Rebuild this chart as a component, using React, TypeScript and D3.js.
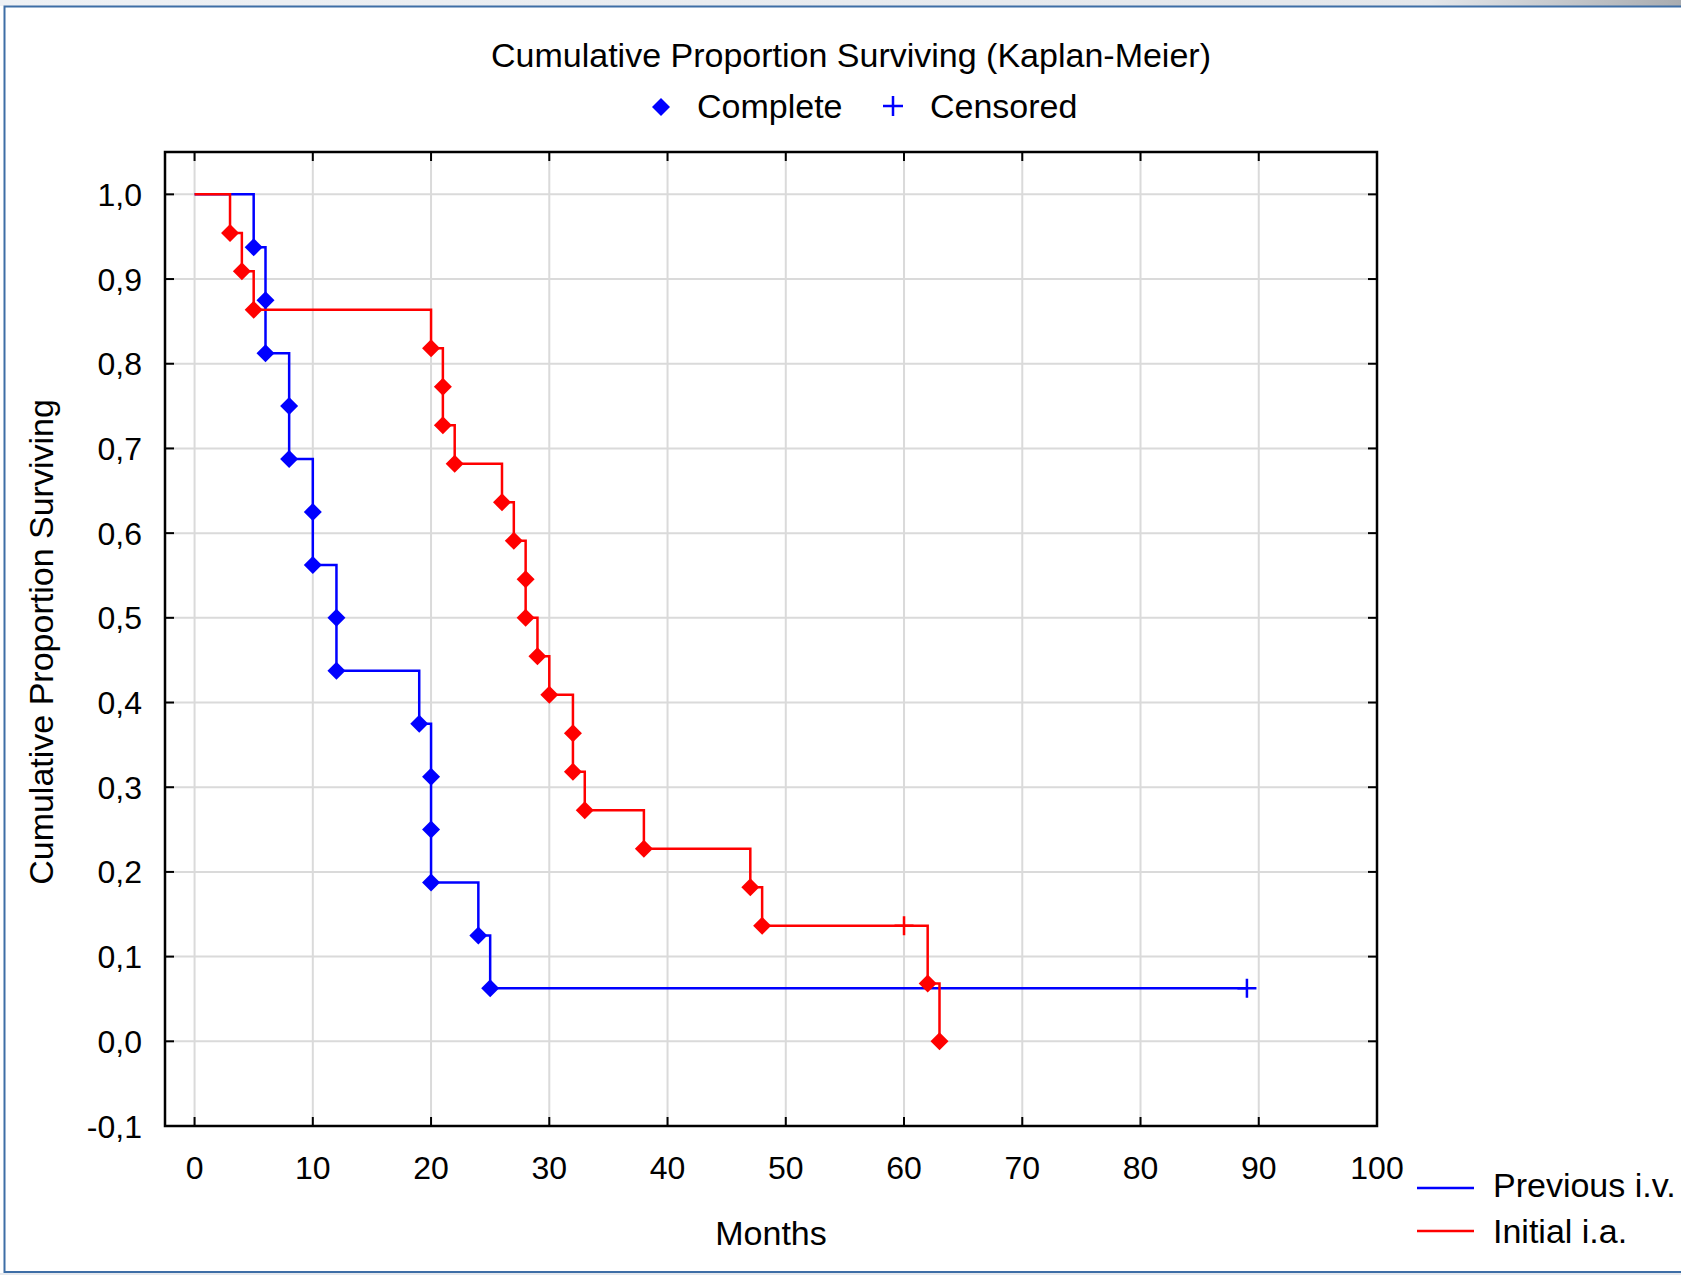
import React from "react";
import * as d3 from "d3";

// Kaplan-Meier estimates, months vs cumulative proportion surviving
const seriesNames = ["Previous i.v.", "Initial i.a."];
const seriesColors = ["#0000ff", "#ff0000"];

// Both curves start from full survival at month 0
const startMonth = 0;
const startSurvival = 1.0;

// Previous i.v.: completed (event) observations
const ivEventMonths = [5, 6, 6, 8, 8, 10, 10, 12, 12, 19, 20, 20, 20, 24, 25];
const ivEventSurvival = [
  0.9375, 0.875, 0.8125, 0.75, 0.6875, 0.625, 0.5625, 0.5, 0.4375, 0.375,
  0.3125, 0.25, 0.1875, 0.125, 0.0625,
];
// Previous i.v.: censored observations
const ivCensoredMonths = [89];
const ivCensoredSurvival = [0.0625];

// Initial i.a.: completed (event) observations
const iaEventMonths = [
  3, 4, 5, 20, 21, 21, 22, 26, 27, 28, 28, 29, 30, 32, 32, 33, 38, 47, 48, 62, 63,
];
const iaEventSurvival = [
  0.9545, 0.9091, 0.8636, 0.8182, 0.7727, 0.7273, 0.6818, 0.6364, 0.5909,
  0.5455, 0.5, 0.4545, 0.4091, 0.3636, 0.3182, 0.2727, 0.2273, 0.1818, 0.1364,
  0.0682, 0.0,
];
// Initial i.a.: censored observations
const iaCensoredMonths = [60];
const iaCensoredSurvival = [0.1364];

const xTicks = [0, 10, 20, 30, 40, 50, 60, 70, 80, 90, 100];
const yTicks = [-0.1, 0, 0.1, 0.2, 0.3, 0.4, 0.5, 0.6, 0.7, 0.8, 0.9, 1.0];

const titleText = "Cumulative Proportion Surviving (Kaplan-Meier)";
const xTitle = "Months";
const yTitle = "Cumulative Proportion Surviving";
const markerLabels = ["Complete", "Censored"];

const W = 1681;
const H = 1275;
const FONT = "'Liberation Sans', Arial, sans-serif";

type Pt = { t: number; s: number; kind: "start" | "event" | "censored" };

function buildSeries(
  evT: number[],
  evS: number[],
  cT: number[],
  cS: number[]
): Pt[] {
  const pts: Pt[] = [];
  evT.forEach((t, i) => pts.push({ t, s: evS[i], kind: "event" }));
  cT.forEach((t, i) => pts.push({ t, s: cS[i], kind: "censored" }));
  // stable order for tied times (events listed in descending survival)
  const sorted = pts
    .map((p, i) => ({ p, i }))
    .sort((a, b) => a.p.t - b.p.t || a.i - b.i)
    .map((d) => d.p);
  return [{ t: startMonth, s: startSurvival, kind: "start" }, ...sorted];
}

const diamond = (cx: number, cy: number, r: number) =>
  `M${cx},${cy - r}L${cx + r},${cy}L${cx},${cy + r}L${cx - r},${cy}Z`;
const plus = (cx: number, cy: number, r: number) =>
  `M${cx - r},${cy}L${cx + r},${cy}M${cx},${cy - r}L${cx},${cy + r}`;

export default function App() {
  const left = 165;
  const right = 1377;
  const top = 152;
  const bottom = 1126;

  const x = d3.scaleLinear().domain([-2.5, 100]).range([left, right]);
  const y = d3.scaleLinear().domain([-0.1, 1.05]).range([bottom, top]);

  const series = [
    buildSeries(ivEventMonths, ivEventSurvival, ivCensoredMonths, ivCensoredSurvival),
    buildSeries(iaEventMonths, iaEventSurvival, iaCensoredMonths, iaCensoredSurvival),
  ];

  const line = d3
    .line<Pt>()
    .x((d) => x(d.t))
    .y((d) => y(d.s))
    .curve(d3.curveStepAfter);

  const fmtY = (v: number) => d3.format(".1f")(v).replace(".", ",").replace("−", "-");

  const tickLen = 9;
  // blue drawn first, red over it
  const drawOrder = [0, 1];

  return (
    <div style={{ position: "absolute", left: 0, top: 0 }}>
      <svg width={W} height={H} style={{ display: "block", background: "#fff" }}>
        <defs>
          <linearGradient id="topStrip" x1="0" x2="1" y1="0" y2="0">
            <stop offset="0" stopColor="#eef1f5" />
            <stop offset="0.85" stopColor="#e4e7eb" />
            <stop offset="1" stopColor="#a9acb0" />
          </linearGradient>
        </defs>
        <rect x={0} y={0} width={W} height={H} fill="#ffffff" />
        <rect x={0} y={0} width={W} height={6} fill="url(#topStrip)" />
        <rect x={0} y={1273} width={W} height={2} fill="#e6e9ee" />
        <rect
          x={4.5}
          y={6.5}
          width={W + 10}
          height={1265.5}
          fill="none"
          stroke="#3e6ea6"
          strokeWidth={2}
        />

        {/* gridlines */}
        <g stroke="#dadada" strokeWidth={2}>
          {xTicks
            .filter((t) => t < 100)
            .map((t) => (
              <line key={`gx${t}`} x1={x(t)} x2={x(t)} y1={top} y2={bottom} />
            ))}
          {yTicks
            .filter((v) => v > -0.1)
            .map((v) => (
              <line key={`gy${v}`} x1={left} x2={right} y1={y(v)} y2={y(v)} />
            ))}
        </g>

        {/* frame and inward ticks */}
        <rect
          x={left}
          y={top}
          width={right - left}
          height={bottom - top}
          fill="none"
          stroke="#000"
          strokeWidth={2.5}
        />
        <g stroke="#000" strokeWidth={2}>
          {xTicks.map((t) => (
            <g key={`tx${t}`}>
              <line x1={x(t)} x2={x(t)} y1={top} y2={top + tickLen} />
              <line x1={x(t)} x2={x(t)} y1={bottom} y2={bottom - tickLen} />
            </g>
          ))}
          {yTicks.map((v) => (
            <g key={`ty${v}`}>
              <line x1={left} x2={left + tickLen} y1={y(v)} y2={y(v)} />
              <line x1={right} x2={right - tickLen} y1={y(v)} y2={y(v)} />
            </g>
          ))}
        </g>

        {/* tick labels */}
        <g fontFamily={FONT} fontSize={32} fill="#000">
          {xTicks.map((t) => (
            <text key={`lx${t}`} x={x(t)} y={1179} textAnchor="middle">
              {t}
            </text>
          ))}
          {yTicks.map((v) => (
            <text
              key={`ly${v}`}
              x={142}
              y={y(v)}
              dy="0.36em"
              textAnchor="end"
            >
              {fmtY(v)}
            </text>
          ))}
        </g>

        {/* survival curves */}
        <g fill="none" strokeWidth={2.5}>
          {drawOrder.map((si) => (
            <path key={`p${si}`} d={line(series[si]) || ""} stroke={seriesColors[si]} />
          ))}
        </g>
        {drawOrder.map((si) => (
          <g key={`m${si}`}>
            {series[si]
              .filter((p) => p.kind === "event")
              .map((p, i) => (
                <path
                  key={i}
                  d={diamond(x(p.t), y(p.s), 9)}
                  fill={seriesColors[si]}
                />
              ))}
            {series[si]
              .filter((p) => p.kind === "censored")
              .map((p, i) => (
                <path
                  key={`c${i}`}
                  d={plus(x(p.t), y(p.s), 9.5)}
                  stroke={seriesColors[si]}
                  strokeWidth={2.5}
                  fill="none"
                />
              ))}
          </g>
        ))}

        {/* titles */}
        <g fontFamily={FONT} fontSize={34} fill="#000">
          <text x={851} y={67} textAnchor="middle">
            {titleText}
          </text>
          <text x={(left + right) / 2} y={1245} textAnchor="middle">
            {xTitle}
          </text>
          <text
            transform={`translate(53, 642) rotate(-90)`}
            textAnchor="middle"
          >
            {yTitle}
          </text>
        </g>

        {/* marker legend */}
        <path d={diamond(661, 107, 9)} fill="#0000ff" />
        <text x={697} y={118} fontFamily={FONT} fontSize={34} fill="#000">
          {markerLabels[0]}
        </text>
        <path d={plus(893, 106, 10)} stroke="#0000ff" strokeWidth={2.5} fill="none" />
        <text x={930} y={118} fontFamily={FONT} fontSize={34} fill="#000">
          {markerLabels[1]}
        </text>

        {/* series legend */}
        {seriesNames.map((name, i) => (
          <g key={name}>
            <line
              x1={1417}
              x2={1474}
              y1={1188 + i * 43}
              y2={1188 + i * 43}
              stroke={seriesColors[i]}
              strokeWidth={2.5}
            />
            <text
              x={1493}
              y={1197 + i * 46}
              fontFamily={FONT}
              fontSize={34}
              fill="#000"
            >
              {name}
            </text>
          </g>
        ))}
      </svg>
    </div>
  );
}
